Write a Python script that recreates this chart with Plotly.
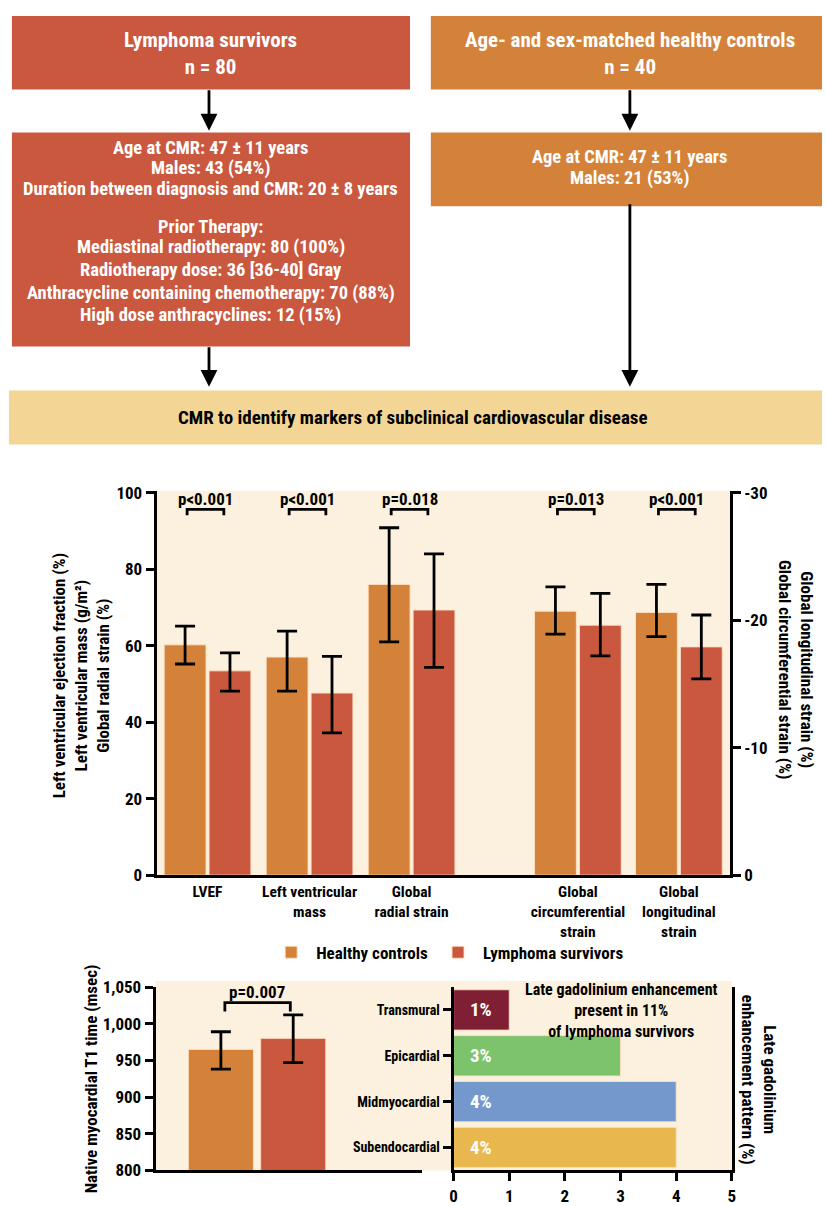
import plotly.graph_objects as go

# ---------------------------------------------------------------- data
groups = ["Healthy controls", "Lymphoma survivors"]

# Left-axis measures (%, g/m2, %)
left_cats = ["LVEF", "Left ventricular<br>mass", "Global<br>radial strain"]
healthy_left = [60.2, 57.0, 76.0]
healthy_left_up = [4.9, 6.8, 14.8]
healthy_left_dn = [5.0, 8.9, 15.0]
survivor_left = [53.4, 47.6, 69.3]
survivor_left_up = [4.7, 9.6, 14.7]
survivor_left_dn = [5.3, 10.4, 15.0]

# Right-axis strain measures (%)
right_cats = ["Global<br>circumferential<br>strain", "Global<br>longitudinal<br>strain"]
healthy_right = [-20.7, -20.6]
healthy_right_up = [1.9, 2.2]
healthy_right_dn = [1.8, 1.9]
survivor_right = [-19.6, -17.9]
survivor_right_up = [2.5, 2.5]
survivor_right_dn = [2.4, 2.5]

p_main = ["p<0.001", "p<0.001", "p=0.018", "p=0.013", "p<0.001"]

# Native T1 (msec)
t1_mean = [965, 980]
t1_up = [24, 32]
t1_dn = [27, 33]
p_t1 = "p=0.007"

# Late gadolinium enhancement pattern (% of survivors)
lge_cats = ["Transmural", "Epicardial", "Midmyocardial", "Subendocardial"]
lge_pct = [1, 3, 4, 4]
lge_note = ["Late gadolinium enhancement", "present in 11%", "of lymphoma survivors"]

# Flowchart text
box_survivors = ["Lymphoma survivors", "n = 80"]
box_controls = ["Age- and sex-matched healthy controls", "n = 40"]
survivor_details = [
    "Age at CMR: 47 ± 11 years",
    "Males: 43 (54%)",
    "Duration between diagnosis and CMR: 20 ± 8 years",
    "Prior Therapy:",
    "Mediastinal radiotherapy: 80 (100%)",
    "Radiotherapy dose: 36 [36-40] Gray",
    "Anthracycline containing chemotherapy: 70 (88%)",
    "High dose anthracyclines: 12 (15%)",
]
control_details = ["Age at CMR: 47 ± 11 years", "Males: 21 (53%)"]
cmr_banner = "CMR to identify markers of subclinical cardiovascular disease"

# ---------------------------------------------------------------- style
W, H = 826, 1206
FONT = "Roboto Condensed, Liberation Sans Narrow, Arial Narrow, DejaVu Sans Condensed, Roboto, sans-serif"
ORANGE = "#D4823A"
RED = "#C9583F"
TAN = "#F3D696"
CREAM = "#FBF1DE"
LGE_COLORS = ["#7E1F33", "#7DC36B", "#7598CC", "#E8B84F"]
EDGE = "rgba(255,225,195,0.9)"


def px(x):
    return x / W


def py(y):
    return 1 - y / H


def bold(size, color="black"):
    return dict(family=FONT, size=size, color=color, weight="bold")


fig = go.Figure()

# ---------------------------------------------------------------- main grouped bars
left_x = [0, 1, 2]
right_x = [3.63, 4.62]
BW = 0.41
OFF_H, OFF_S = -0.425, 0.015
err_style = dict(type="data", symmetric=False, color="black", thickness=2.8, width=10)

fig.add_trace(go.Bar(
    x=left_x, y=healthy_left, name=groups[0], marker=dict(color=ORANGE, line=dict(color=EDGE, width=1)),
    width=BW, offset=OFF_H, legendgroup="h",
    error_y=dict(array=healthy_left_up, arrayminus=healthy_left_dn, **err_style),
    xaxis="x", yaxis="y"))
fig.add_trace(go.Bar(
    x=left_x, y=survivor_left, name=groups[1], marker=dict(color=RED, line=dict(color=EDGE, width=1)),
    width=BW, offset=OFF_S, legendgroup="s",
    error_y=dict(array=survivor_left_up, arrayminus=survivor_left_dn, **err_style),
    xaxis="x", yaxis="y"))
fig.add_trace(go.Bar(
    x=right_x, y=healthy_right, name=groups[0], marker=dict(color=ORANGE, line=dict(color=EDGE, width=1)),
    width=BW, offset=OFF_H, legendgroup="h", showlegend=False,
    error_y=dict(array=healthy_right_dn, arrayminus=healthy_right_up, **err_style),
    xaxis="x", yaxis="y2"))
fig.add_trace(go.Bar(
    x=right_x, y=survivor_right, name=groups[1], marker=dict(color=RED, line=dict(color=EDGE, width=1)),
    width=BW, offset=OFF_S, legendgroup="s", showlegend=False,
    error_y=dict(array=survivor_right_dn, arrayminus=survivor_right_up, **err_style),
    xaxis="x", yaxis="y2"))

# ---------------------------------------------------------------- T1 bars
fig.add_trace(go.Bar(
    x=[0, 1], y=t1_mean, marker=dict(color=[ORANGE, RED], line=dict(color=EDGE, width=1)),
    width=0.9, showlegend=False,
    error_y=dict(array=t1_up, arrayminus=t1_dn, **err_style),
    xaxis="x3", yaxis="y3"))

# ---------------------------------------------------------------- LGE horizontal bars
fig.add_trace(go.Bar(
    x=lge_pct, y=lge_cats, orientation="h", showlegend=False,
    marker=dict(color=LGE_COLORS, line=dict(color=EDGE, width=1)),
    xaxis="x4", yaxis="y4"))

axis_common = dict(showline=True, linecolor="black", linewidth=2.8, ticks="outside",
                   tickcolor="black", tickwidth=2.8, ticklen=8, showgrid=False, zeroline=False,
                   tickfont=bold(17))

right_ticks = [0, -10, -20, -30]

fig.update_layout(
    width=W, height=H, margin=dict(l=0, r=0, t=0, b=0),
    paper_bgcolor="white", plot_bgcolor=CREAM,
    barmode="overlay", bargap=0.12,
    font=dict(family=FONT, color="black"),
    legend=dict(orientation="h", x=px(448), y=py(961), xanchor="center", yanchor="middle",
                font=bold(17), itemwidth=40, bgcolor="rgba(0,0,0,0)", traceorder="normal"),
    xaxis=dict(domain=[px(154), px(733)], range=[-0.5, 5.12], anchor="y",
               showline=True, linecolor="black", linewidth=2.8, showgrid=False, zeroline=False,
               tickvals=left_x + right_x, ticktext=left_cats + right_cats, ticks="",
               tickfont=bold(15.5)),
    yaxis=dict(domain=[py(882), py(490)], range=[0, 100.5], tickvals=[0, 20, 40, 60, 80, 100],
               anchor="x", **axis_common),
    yaxis2=dict(domain=[py(882), py(490)], range=[0, -30.15], tickvals=right_ticks,
                ticktext=[str(v) for v in right_ticks],
                overlaying="y", side="right", anchor="x", **axis_common),
    xaxis3=dict(domain=[px(153), px(422)], range=[-0.904, 2.78], anchor="y3",
                showline=True, linecolor="black", linewidth=2.8, showticklabels=False,
                ticks="", showgrid=False, zeroline=False),
    yaxis3=dict(domain=[py(1183), py(996)], range=[800, 1050], tickvals=[800, 850, 900, 950, 1000, 1050],
                tickformat=",", anchor="x3", **axis_common),
    xaxis4=dict(domain=[px(454), px(735)], range=[0, 5], tickvals=[0, 1, 2, 3, 4, 5], anchor="y4",
                **axis_common),
    yaxis4=dict(domain=[py(1183), py(996)], range=[3.5, -0.5], anchor="x4", mirror=True,
                **{**axis_common, "tickfont": bold(14)}),
)

shapes = []
ann = []


def text_lines(lines, x, ys, font):
    # one annotation per line keeps the spacing between lines under control
    for t, y in zip(lines, ys):
        ann.append(dict(text=t, x=px(x), y=py(y), font=font))


# ---------------------------------------------------------------- flowchart
def box(x0, y0, x1, y1, color):
    shapes.append(dict(type="rect", xref="paper", yref="paper", x0=px(x0), x1=px(x1),
                       y0=py(y1), y1=py(y0), fillcolor=color, line=dict(width=0), layer="below"))


box(8, 6, 410, 81, RED)
box(431, 6, 826, 81, ORANGE)
box(8, 125, 410, 343, RED)
box(431, 125, 826, 200, ORANGE)
box(5, 388, 826, 443, TAN)

ann.append(dict(text="<br>".join(box_survivors), x=px(209), y=py(44), font=bold(21, "white")))
ann.append(dict(text="<br>".join(box_controls), x=px(632), y=py(44), font=bold(21, "white")))
text_lines(survivor_details, 209, [141, 161, 182, 221, 242, 265, 288, 311], bold(18.5, "white"))
text_lines(control_details, 632, [150, 171], bold(18.5, "white"))
ann.append(dict(text=cmr_banner, x=px(413), y=py(415), font=bold(19)))

for (xa, ya0, ya1) in [(207, 81, 123), (632, 81, 123), (207, 343, 384), (632, 200, 384)]:
    ann.append(dict(text="", x=px(xa), y=py(ya1), ax=0, ay=-(ya1 - ya0), showarrow=True,
                    arrowhead=2, arrowsize=1.2, arrowwidth=2.8, arrowcolor="black",
                    xref="paper", yref="paper"))

# ---------------------------------------------------------------- p-value brackets, main chart
for xc, label in zip(left_x + right_x, p_main):
    xa, xb = xc - 0.2, xc + 0.16
    shapes.append(dict(type="path", xref="x", yref="y",
                       path=f"M {xa},94.1 L {xa},95.6 L {xb},95.6 L {xb},94.1",
                       line=dict(color="black", width=2.8)))
    ann.append(dict(text=label, x=xc - 0.02, y=98.3, xref="x", yref="y", font=bold(17)))

# ---------------------------------------------------------------- p-value bracket, T1
shapes.append(dict(type="path", xref="x3", yref="y3",
                   path="M 0.055,1016.6 L 0.055,1028.6 L 0.96,1028.6 L 0.96,1016.6",
                   line=dict(color="black", width=2.8)))
ann.append(dict(text=p_t1, x=0.5, y=1043, xref="x3", yref="y3", font=bold(17)))

# cream panel behind both lower plots (fills the gap between them)
shapes.append(dict(type="rect", xref="paper", yref="paper", x0=px(153), x1=px(735),
                   y0=py(1183), y1=py(990), fillcolor=CREAM, line=dict(width=0), layer="below"))

# ---------------------------------------------------------------- LGE labels
for cat, v in zip(lge_cats, lge_pct):
    ann.append(dict(text=f"{v:g}%", x=0.25, y=cat, xref="x4", yref="y4", xanchor="left",
                    font=bold(19, "white")))
ann.append(dict(text="<br>".join(lge_note), x=px(624), y=py(1020), font=bold(16)))

# ---------------------------------------------------------------- axis titles
ann.append(dict(text="Left ventricular ejection fraction (%)<br>Left ventricular mass (g/m²)<br>Global radial strain (%)",
                x=px(78), y=py(678), textangle=-90, font=bold(17)))
ann.append(dict(text="Global longitudinal strain (%)<br>Global circumferential strain (%)",
                x=px(800), y=py(673), textangle=90, font=bold(17)))
ann.append(dict(text="Native myocardial T1 time (msec)", x=px(88), y=py(1090), textangle=-90, font=bold(17)))
ann.append(dict(text="Late gadolinium<br>enhancement pattern (%)", x=px(762), y=py(1090), textangle=90,
                font=bold(17)))

for a in ann:
    a.setdefault("xref", "paper")
    a.setdefault("yref", "paper")
    a.setdefault("showarrow", False)
    a.setdefault("xanchor", "center")
    a.setdefault("yanchor", "middle")

fig.update_layout(shapes=shapes, annotations=ann)
fig.write_html("out.html")
